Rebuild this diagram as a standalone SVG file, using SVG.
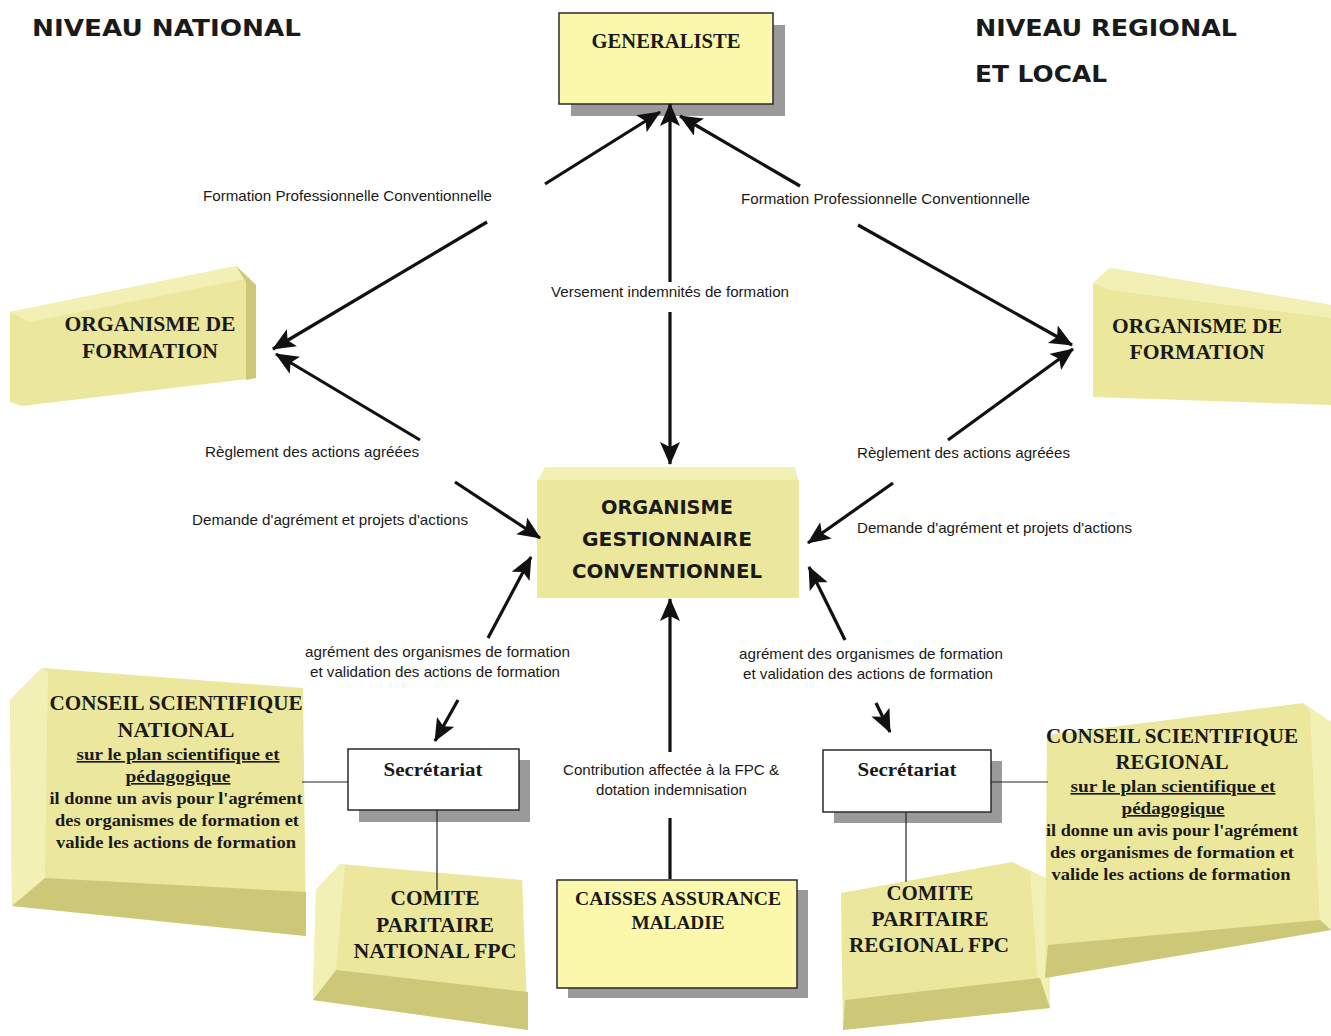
<svg xmlns="http://www.w3.org/2000/svg" width="1331" height="1036" viewBox="0 0 1331 1036">
<defs>
<marker id="ah" markerUnits="userSpaceOnUse" markerWidth="26" markerHeight="22" refX="22" refY="10" orient="auto">
<path d="M0,0 L23,10 L0,20 L5,10 z" fill="#111"/>
</marker>
<style>
.title{font-family:"Comic Sans MS","DejaVu Sans",sans-serif;font-weight:bold;font-size:23px;fill:#1a1a1a}
.comic{font-family:"Comic Sans MS","DejaVu Sans",sans-serif;font-weight:bold;font-size:20px;fill:#1a1a1a;text-anchor:middle}
.serif{font-family:"Liberation Serif","DejaVu Serif",serif;font-weight:bold;fill:#1a1a1a;text-anchor:middle}
.lbl{font-family:"Liberation Sans",Arial,sans-serif;font-size:15px;fill:#1a1a1a}
.ln{stroke:#111;stroke-width:3.2;fill:none;marker-end:url(#ah)}
.thin{stroke:#222;stroke-width:1.2;fill:none}
.face{fill:#ebe79c}
.side{fill:#f3f0b6}
.bot{fill:#cdc878}
.shadow{fill:#9a9a9a}
.box{fill:#fcf8ab;stroke:#2a2a2a;stroke-width:1.5}
.wbox{fill:#ffffff;stroke:#2a2a2a;stroke-width:1.5}
</style>
</defs>
<rect width="1331" height="1036" fill="#ffffff"/>

<text class="title" x="32" y="36" textLength="269" lengthAdjust="spacingAndGlyphs">NIVEAU NATIONAL</text>
<text class="title" x="975" y="36" textLength="262" lengthAdjust="spacingAndGlyphs">NIVEAU REGIONAL</text>
<text class="title" x="975" y="82" textLength="132" lengthAdjust="spacingAndGlyphs">ET LOCAL</text>

<g id="generaliste">
<rect class="shadow" x="571" y="25" width="214" height="91"/>
<rect class="box" x="559" y="13" width="214" height="91"/>
<text class="serif" x="666" y="48" font-size="20.5" textLength="149" lengthAdjust="spacingAndGlyphs">GENERALISTE</text>
</g>

<g id="organisme-formation-national">
<polygon class="face" points="10,312 236,266 256,285 256,378 22,406 10,402"/>
<polygon class="side" points="10,312 236,266 250,278 30,322"/>
<polygon class="bot" points="236,266 256,285 256,378 246,380 246,282"/>
<text class="serif" x="150" y="331" font-size="20.5" textLength="171" lengthAdjust="spacingAndGlyphs">ORGANISME DE</text>
<text class="serif" x="150" y="358" font-size="20.5" textLength="136" lengthAdjust="spacingAndGlyphs">FORMATION</text>
</g>

<g id="organisme-formation-regional">
<polygon class="face" points="1093,283 1110,268 1331,305 1331,405 1093,397"/>
<polygon class="side" points="1093,283 1110,268 1331,305 1331,318 1110,290"/>
<text class="serif" x="1197" y="333" font-size="20.5" textLength="170" lengthAdjust="spacingAndGlyphs">ORGANISME DE</text>
<text class="serif" x="1197" y="359" font-size="20.5" textLength="135" lengthAdjust="spacingAndGlyphs">FORMATION</text>
</g>

<g id="organisme-gestionnaire">
<polygon class="side" points="545,467 795,467 799,482 537,482"/>
<rect class="face" x="537" y="480" width="262" height="118"/>
<text class="comic" x="667" y="514" textLength="132" lengthAdjust="spacingAndGlyphs">ORGANISME</text>
<text class="comic" x="667" y="546" textLength="170" lengthAdjust="spacingAndGlyphs">GESTIONNAIRE</text>
<text class="comic" x="667" y="578" textLength="190" lengthAdjust="spacingAndGlyphs">CONVENTIONNEL</text>
</g>

<g id="conseil-national">
<polygon class="face" points="10,700 42,668 303,688 306,936 12,906"/>
<polygon class="side" points="10,700 42,668 48,672 45,880 12,906"/>
<polygon class="bot" points="12,906 45,878 306,892 306,936"/>
<text class="serif" x="176" y="710" font-size="20" textLength="253" lengthAdjust="spacingAndGlyphs">CONSEIL SCIENTIFIQUE</text>
<text class="serif" x="176" y="737" font-size="20" textLength="117" lengthAdjust="spacingAndGlyphs">NATIONAL</text>
<text class="serif" x="178" y="760" font-size="16.5" text-decoration="underline" textLength="203" lengthAdjust="spacingAndGlyphs">sur le plan scientifique et</text>
<text class="serif" x="178" y="782" font-size="16.5" text-decoration="underline" textLength="105" lengthAdjust="spacingAndGlyphs">pédagogique</text>
<text class="serif" x="176" y="804" font-size="16.5" textLength="253" lengthAdjust="spacingAndGlyphs">il donne un avis pour l'agrément</text>
<text class="serif" x="177" y="826" font-size="16.5" textLength="244" lengthAdjust="spacingAndGlyphs">des organismes de formation et</text>
<text class="serif" x="176" y="848" font-size="16.5" textLength="240" lengthAdjust="spacingAndGlyphs">valide les actions de formation</text>
</g>

<g id="comite-national">
<polygon class="face" points="316,890 340,864 522,880 528,1030 313,1000"/>
<polygon class="side" points="316,890 340,864 345,866 336,972 313,1000"/>
<polygon class="bot" points="313,1000 336,970 528,992 528,1030"/>
<text class="serif" x="435" y="905" font-size="21" textLength="89" lengthAdjust="spacingAndGlyphs">COMITE</text>
<text class="serif" x="435" y="932" font-size="21" textLength="118" lengthAdjust="spacingAndGlyphs">PARITAIRE</text>
<text class="serif" x="435" y="958" font-size="21" textLength="163" lengthAdjust="spacingAndGlyphs">NATIONAL FPC</text>
</g>

<g id="comite-regional">
<polygon class="face" points="841,893 1012,862 1050,880 1050,1008 843,1030"/>
<polygon class="side" points="1012,862 1050,880 1050,1008 1040,1010 1030,872"/>
<polygon class="bot" points="843,1030 845,1000 1040,978 1050,1008"/>
<text class="serif" x="930" y="900" font-size="21" textLength="87" lengthAdjust="spacingAndGlyphs">COMITE</text>
<text class="serif" x="930" y="926" font-size="21" textLength="117" lengthAdjust="spacingAndGlyphs">PARITAIRE</text>
<text class="serif" x="929" y="952" font-size="21" textLength="160" lengthAdjust="spacingAndGlyphs">REGIONAL FPC</text>
</g>

<g id="conseil-regional">
<polygon class="face" points="1047,735 1303,703 1331,722 1331,930 1045,978"/>
<polygon class="side" points="1303,703 1331,722 1331,930 1320,925 1310,712"/>
<polygon class="bot" points="1045,978 1048,945 1320,920 1331,930"/>
<text class="serif" x="1172" y="743" font-size="20" textLength="252" lengthAdjust="spacingAndGlyphs">CONSEIL SCIENTIFIQUE</text>
<text class="serif" x="1172" y="769" font-size="20" textLength="113" lengthAdjust="spacingAndGlyphs">REGIONAL</text>
<text class="serif" x="1173" y="792" font-size="16.5" text-decoration="underline" textLength="205" lengthAdjust="spacingAndGlyphs">sur le plan scientifique et</text>
<text class="serif" x="1173" y="814" font-size="16.5" text-decoration="underline" textLength="103" lengthAdjust="spacingAndGlyphs">pédagogique</text>
<text class="serif" x="1172" y="836" font-size="16.5" textLength="252" lengthAdjust="spacingAndGlyphs">il donne un avis pour l'agrément</text>
<text class="serif" x="1172" y="858" font-size="16.5" textLength="244" lengthAdjust="spacingAndGlyphs">des organismes de formation et</text>
<text class="serif" x="1171" y="880" font-size="16.5" textLength="239" lengthAdjust="spacingAndGlyphs">valide les actions de formation</text>
</g>

<g id="secretariat-national">
<rect class="shadow" x="359" y="760" width="171" height="62"/>
<rect class="wbox" x="348" y="749" width="171" height="61"/>
<text class="serif" x="433" y="776" font-size="19.5" textLength="99" lengthAdjust="spacingAndGlyphs">Secrétariat</text>
</g>

<g id="secretariat-regional">
<rect class="shadow" x="834" y="761" width="168" height="62"/>
<rect class="wbox" x="823" y="750" width="168" height="62"/>
<text class="serif" x="907" y="776" font-size="19.5" textLength="99" lengthAdjust="spacingAndGlyphs">Secrétariat</text>
</g>

<g id="caisses">
<rect class="shadow" x="568" y="890" width="240" height="108"/>
<rect class="box" x="557" y="880" width="240" height="108"/>
<text class="serif" x="678" y="905" font-size="18.5" textLength="206" lengthAdjust="spacingAndGlyphs">CAISSES ASSURANCE</text>
<text class="serif" x="678" y="929" font-size="18.5" textLength="93" lengthAdjust="spacingAndGlyphs">MALADIE</text>
</g>

<g id="connectors">
<line class="ln" x1="545" y1="184" x2="660" y2="112"/>
<line class="ln" x1="487" y1="222" x2="273" y2="349"/>
<line class="ln" x1="800" y1="186" x2="680" y2="116"/>
<line class="ln" x1="858" y1="225" x2="1072" y2="345"/>
<line class="ln" x1="670" y1="282" x2="670" y2="104"/>
<line class="ln" x1="670" y1="312" x2="670" y2="464"/>
<line class="ln" x1="420" y1="440" x2="276" y2="354"/>
<line class="ln" x1="455" y1="482" x2="540" y2="538"/>
<line class="ln" x1="948" y1="440" x2="1073" y2="349"/>
<line class="ln" x1="893" y1="483" x2="808" y2="543"/>
<line class="ln" x1="488" y1="638" x2="531" y2="557"/>
<line class="ln" x1="458" y1="700" x2="435" y2="741"/>
<line class="ln" x1="845" y1="640" x2="809" y2="567"/>
<line class="ln" x1="876" y1="703" x2="890" y2="732"/>
<line class="ln" x1="670" y1="752" x2="670" y2="599"/>
<line stroke="#111" stroke-width="3.2" x1="670" y1="818" x2="670" y2="879"/>
<line class="thin" x1="302" y1="782" x2="348" y2="782"/>
<line class="thin" x1="437" y1="810" x2="437" y2="890"/>
<line class="thin" x1="991" y1="782" x2="1048" y2="782"/>
<line class="thin" x1="906" y1="812" x2="906" y2="882"/>
</g>

<g id="labels">
<text class="lbl" x="203" y="201" textLength="289" lengthAdjust="spacingAndGlyphs">Formation Professionnelle Conventionnelle</text>
<text class="lbl" x="741" y="204" textLength="289" lengthAdjust="spacingAndGlyphs">Formation Professionnelle Conventionnelle</text>
<text class="lbl" x="551" y="297" textLength="238" lengthAdjust="spacingAndGlyphs">Versement indemnités de formation</text>
<text class="lbl" x="205" y="457" textLength="214" lengthAdjust="spacingAndGlyphs">Règlement des actions agréées</text>
<text class="lbl" x="857" y="458" textLength="213" lengthAdjust="spacingAndGlyphs">Règlement des actions agréées</text>
<text class="lbl" x="192" y="525" textLength="276" lengthAdjust="spacingAndGlyphs">Demande d'agrément et projets d'actions</text>
<text class="lbl" x="857" y="533" textLength="275" lengthAdjust="spacingAndGlyphs">Demande d'agrément et projets d'actions</text>
<text class="lbl" x="305" y="657" textLength="265" lengthAdjust="spacingAndGlyphs">agrément des organismes de formation</text>
<text class="lbl" x="310" y="677" textLength="250" lengthAdjust="spacingAndGlyphs">et validation des actions de formation</text>
<text class="lbl" x="739" y="659" textLength="264" lengthAdjust="spacingAndGlyphs">agrément des organismes de formation</text>
<text class="lbl" x="743" y="679" textLength="250" lengthAdjust="spacingAndGlyphs">et validation des actions de formation</text>
<text class="lbl" x="563" y="775" textLength="216" lengthAdjust="spacingAndGlyphs">Contribution affectée à la FPC &amp;</text>
<text class="lbl" x="596" y="795" textLength="151" lengthAdjust="spacingAndGlyphs">dotation indemnisation</text>
</g>
</svg>
